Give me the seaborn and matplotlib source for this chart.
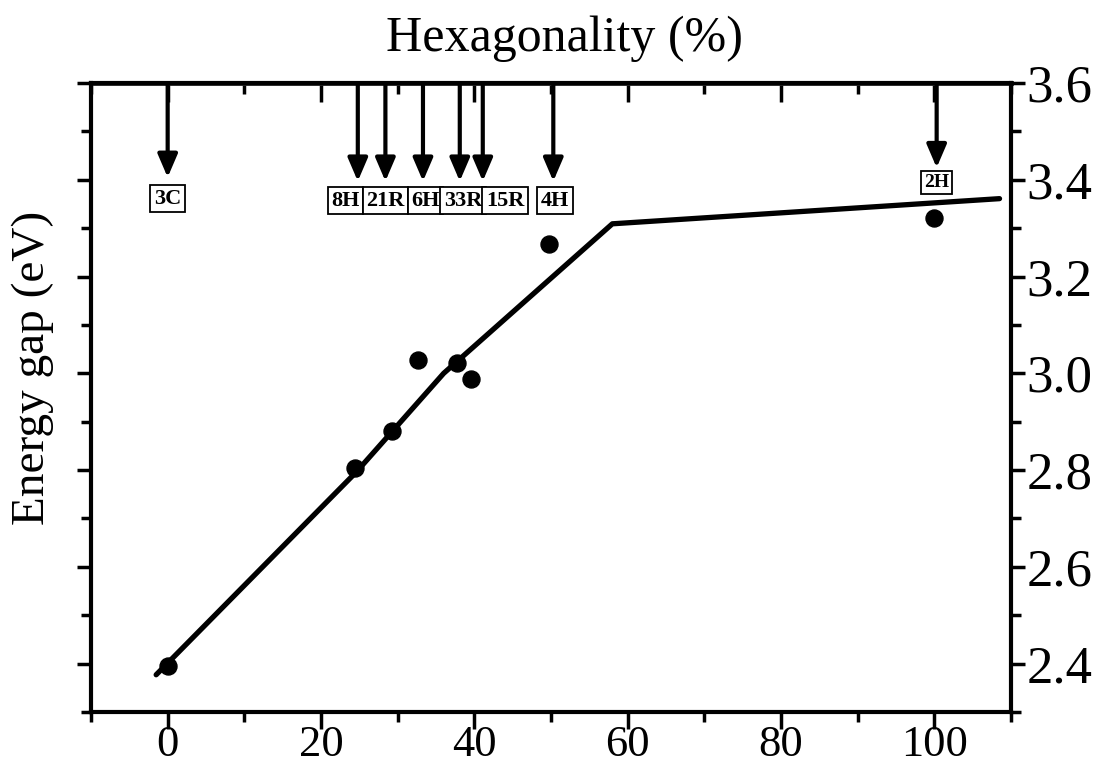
import matplotlib
matplotlib.use("Agg")
import matplotlib.pyplot as plt
import seaborn as sns
import pandas as pd
from matplotlib.ticker import MultipleLocator

# ---- data ----
polytypes = ['3C', '8H', '21R', '6H', '33R', '15R', '4H', '2H']
arrow_x = [0, 24.8, 28.4, 33.3, 38.1, 41.1, 50.3, 100.3]
label_x = [0, 23.2, 28.4, 33.6, 38.5, 44.0, 50.5, 100.3]
label_y = [3.361, 3.357, 3.357, 3.357, 3.357, 3.357, 3.357, 3.394]
arrow_tip_y = [3.405, 3.397, 3.397, 3.397, 3.397, 3.397, 3.397, 3.425]
label_size = [16, 16, 16, 16, 16, 16, 16, 14]

point_x = [0, 24.4, 29.2, 32.7, 37.7, 39.6, 49.8, 100.0]
point_y = [2.395, 2.805, 2.881, 3.027, 3.021, 2.989, 3.268, 3.322]

line_x = [-1.5, 24.6, 36.0, 58.0, 108.5]
line_y = [2.377, 2.796, 3.0, 3.309, 3.361]

sns.set_style('ticks')
plt.rcParams['font.family'] = ['Liberation Serif', 'DejaVu Serif']
plt.rcParams['text.color'] = 'black'
plt.rcParams['axes.labelcolor'] = 'black'
plt.rcParams['xtick.color'] = 'black'
plt.rcParams['ytick.color'] = 'black'

fig = plt.figure(figsize=(11.07, 7.70), dpi=100)
ax = fig.add_axes([0.0822, 0.0753, 0.8311, 0.8169])

df_line = pd.DataFrame({'x': line_x, 'y': line_y})
df_pts = pd.DataFrame({'x': point_x, 'y': point_y})

sns.lineplot(data=df_line, x='x', y='y', ax=ax, color='black', lw=3.8,
             sort=False, estimator=None)
sns.scatterplot(data=df_pts, x='x', y='y', ax=ax, color='black', s=150,
                edgecolor='black', zorder=5)

ax.set_xlim(-10, 110)
ax.set_ylim(2.3, 3.6)

for sp in ax.spines.values():
    sp.set_linewidth(3)
    sp.set_color('black')

# x ticks (bottom, outward)
ax.xaxis.set_major_locator(MultipleLocator(20))
ax.xaxis.set_minor_locator(MultipleLocator(10))
ax.tick_params(axis='x', which='major', direction='out', length=12, width=2.5,
               labelsize=32, pad=-3, top=False, colors='black')
ax.tick_params(axis='x', which='minor', direction='out', length=7, width=2.5, top=False)

# y ticks: both sides, labels on right
ax.yaxis.set_major_locator(MultipleLocator(0.2))
ax.yaxis.set_minor_locator(MultipleLocator(0.1))
ax.tick_params(axis='y', which='both', left=True, right=True,
               labelleft=False, labelright=True, direction='out', colors='black')
ax.tick_params(axis='y', which='major', length=10, width=2.5, labelsize=38, pad=1)
ax.tick_params(axis='y', which='minor', length=7, width=2.5)

# top ticks inward
sec = ax.secondary_xaxis('top')
sec.xaxis.set_major_locator(MultipleLocator(20))
sec.xaxis.set_minor_locator(MultipleLocator(10))
sec.tick_params(axis='x', which='major', direction='in', length=14, width=2.5,
                labeltop=False, colors='black')
sec.tick_params(axis='x', which='minor', direction='in', length=8, width=2.5)
sec.spines['top'].set_linewidth(3.5)

ax.set_xlabel('')
ax.set_ylabel('Energy gap (eV)', fontsize=34, color='black')
ax.yaxis.set_label_position('left')
ax.yaxis.set_label_coords(-0.040, 0.547)
ax.set_title('Hexagonality (%)', fontsize=36, pad=23, x=0.515, color='black')

# arrows and polytype labels
for name, ax_x, tip, lx, ly, fs in zip(polytypes, arrow_x, arrow_tip_y,
                                       label_x, label_y, label_size):
    ax.annotate('', xy=(ax_x, tip), xytext=(ax_x, 3.6),
                arrowprops=dict(arrowstyle='-|>,head_length=0.7,head_width=0.3',
                                lw=3, color='black', shrinkA=0, shrinkB=0,
                                mutation_scale=20),
                annotation_clip=False)
    ax.text(lx, ly, name, fontsize=fs, fontweight='bold', ha='center', va='center',
            color='black',
            bbox=dict(boxstyle='square,pad=0.16', fc='white', ec='black', lw=1.3),
            zorder=6)

fig.savefig('out.png', dpi=100)
